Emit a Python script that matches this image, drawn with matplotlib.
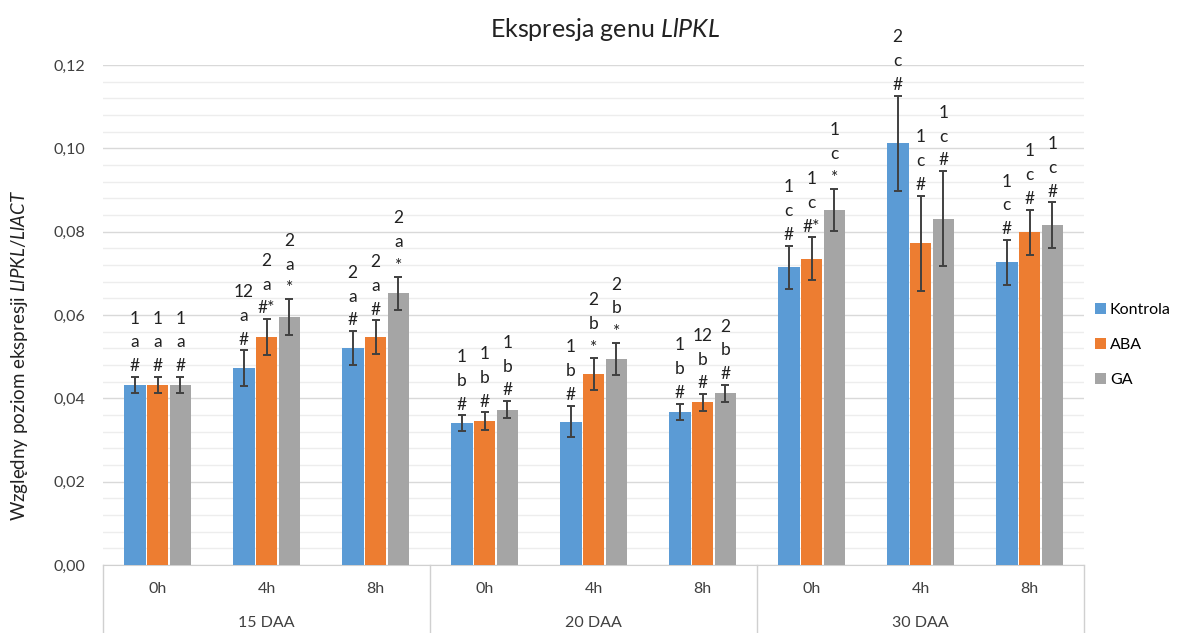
import numpy as np
import matplotlib
matplotlib.use("Agg")
import matplotlib.pyplot as plt
from matplotlib.ticker import MultipleLocator, FuncFormatter
import matplotlib.transforms as mtransforms

plt.rcParams['font.family'] = ['Lato', 'DejaVu Sans']
plt.rcParams['mathtext.fontset'] = 'custom'
plt.rcParams['mathtext.rm'] = 'Lato'
plt.rcParams['mathtext.it'] = 'Lato:italic'

# Expression data (mean ± SD), 3 stages x 3 time points
stages = ["15 DAA", "20 DAA", "30 DAA"]
hours = ["0h", "4h", "8h"]
series = ["Kontrola", "ABA", "GA"]
colors = ["#5B9BD5", "#ED7D31", "#A5A5A5"]

kontrola = [0.0432, 0.0472, 0.0521, 0.0340, 0.0344, 0.0367, 0.0714, 0.1012, 0.0726]
aba      = [0.0432, 0.0547, 0.0547, 0.0345, 0.0458, 0.0390, 0.0735, 0.0772, 0.0798]
ga       = [0.0432, 0.0595, 0.0652, 0.0373, 0.0495, 0.0412, 0.0852, 0.0831, 0.0815]

kontrola_sd = [0.0019, 0.0043, 0.0040, 0.0019, 0.0038, 0.0020, 0.0052, 0.0114, 0.0054]
aba_sd      = [0.0019, 0.0043, 0.0040, 0.0021, 0.0038, 0.0020, 0.0051, 0.0114, 0.0055]
ga_sd       = [0.0019, 0.0043, 0.0040, 0.0020, 0.0038, 0.0020, 0.0051, 0.0114, 0.0055]

# significance labels: number / letter / symbol
kontrola_sig = ["1\na\n#", "12\na\n#", "2\na\n#", "1\nb\n#", "1\nb\n#", "1\nb\n#",
                "1\nc\n#", "2\nc\n#", "1\nc\n#"]
aba_sig      = ["1\na\n#", "2\na\n#*", "2\na\n#", "1\nb\n#", "2\nb\n*", "12\nb\n#",
                "1\nc\n#*", "1\nc\n#", "1\nc\n#"]
ga_sig       = ["1\na\n#", "2\na\n*", "2\na\n*", "1\nb\n#", "2\nb\n*", "2\nb\n#",
                "1\nc\n*", "1\nc\n#", "1\nc\n#"]

values = [kontrola, aba, ga]
errors = [kontrola_sd, aba_sd, ga_sd]
labels = [kontrola_sig, aba_sig, ga_sig]

fig = plt.figure(figsize=(11.9, 6.33), dpi=100)
ax = fig.add_axes([0.0866, 0.1074, 0.8244, 0.790])

x = np.arange(len(stages) * len(hours))
width = 0.2
step = 0.21

for i, (name, col) in enumerate(zip(series, colors)):
    pos = x + (i - 1) * step
    ax.bar(pos, values[i], width=width, color=col, label=name, zorder=3)
    ax.errorbar(pos, values[i], yerr=errors[i], fmt="none", ecolor="#404040",
                elinewidth=1.4, capsize=3.2, capthick=1.4, zorder=4)
    for xp, v, e, s in zip(pos, values[i], errors[i], labels[i]):
        ax.annotate(s, xy=(xp, v + e), xytext=(0, 2), textcoords="offset points",
                    ha="center", va="bottom", fontsize=12.5, linespacing=1.6,
                    color="#222222")

ax.set_ylim(0, 0.12)
ax.set_xlim(-0.5, len(x) - 0.5)
ax.yaxis.set_major_locator(MultipleLocator(0.02))
ax.yaxis.set_minor_locator(MultipleLocator(0.004))
ax.yaxis.set_major_formatter(FuncFormatter(lambda v, _: f"{v:.2f}".replace(".", ",")))
ax.grid(axis="y", which="major", color="#d9d9d9", lw=1.0, zorder=0)
ax.grid(axis="y", which="minor", color="#ededed", lw=1.0, zorder=0)
ax.tick_params(axis="y", which="both", length=0, pad=13, labelsize=11.5, labelcolor="#404040")

for side in ["left", "right", "top"]:
    ax.spines[side].set_visible(False)
ax.spines["bottom"].set_color("#d0d0d0")

# two-level category axis
ax.set_xticks(x)
ax.set_xticklabels(hours * len(stages))
ax.tick_params(axis="x", length=0, pad=12, labelsize=11.5, labelcolor="#404040")
trans = mtransforms.blended_transform_factory(ax.transData, ax.transAxes)
for k in range(len(stages) + 1):
    xb = k * len(hours) - 0.5
    ax.plot([xb, xb], [0, -0.14], transform=trans, color="#d0d0d0", lw=1.0,
            clip_on=False)
for k, st in enumerate(stages):
    ax.text(k * len(hours) + 1, -0.116, st, transform=trans, ha="center",
            va="center", fontsize=11.5, color="#404040")

ax.set_title("Ekspresja genu $\\mathit{LlPKL}$", fontsize=18, color="#222222",
             pad=20, x=0.512)
ax.set_ylabel("Względny poziom ekspresji $\\mathit{LlPKL/LlACT}$", fontsize=13.5,
              color="#222222")
ax.yaxis.set_label_coords(-0.074, 0.42)

fig.legend(loc="center left", bbox_to_anchor=(0.92, 0.455), frameon=False,
           fontsize=11.5, handlelength=0.7, handleheight=0.7, handletextpad=0.25,
           labelspacing=1.3, borderaxespad=0, borderpad=0)

fig.savefig("out.png", dpi=100)
